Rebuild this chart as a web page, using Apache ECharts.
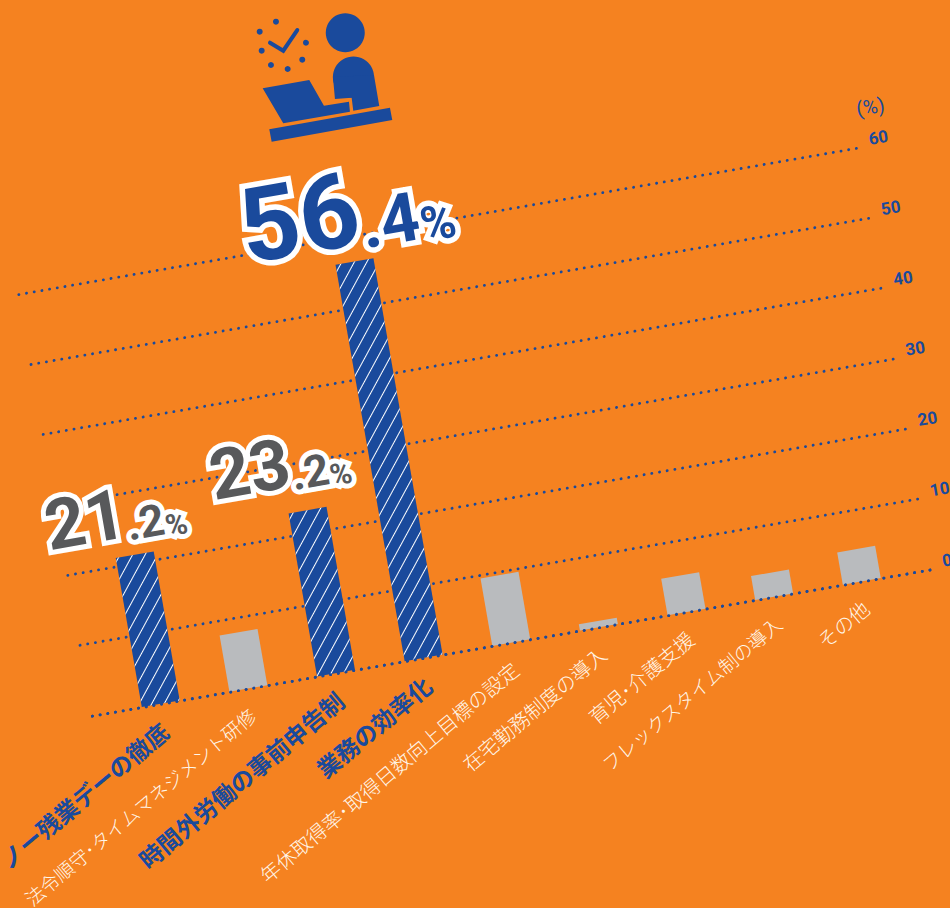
<!DOCTYPE html>
<html lang="ja">
<head>
<meta charset="utf-8">
<style>
  html, body { margin: 0; width: 950px; height: 908px; overflow: hidden; background: #F58220; }
  #stage { position: absolute; left: -175px; top: -196px; width: 1300px; height: 1300px; transform: rotate(-9.9deg); transform-origin: 650px 650px; }
</style>
<script src="https://cdn.jsdelivr.net/npm/echarts@6/dist/echarts.min.js"></script>
</head>
<body>
<div id="stage"></div>
<script>
// Survey results: share of respondents per work-style measure (%)
const categories = [
  'ノー残業デーの徹底', '法令順守･タイムマネジメント研修', '時間外労働の事前申告制', '業務の効率化',
  '年休取得率･取得日数向上目標の設定', '在宅勤務制度の導入', '育児･介護支援', 'フレックスタイム制の導入', 'その他'
];
const values = [21.2, 8.0, 23.2, 56.4, 9.6, 0.9, 5.2, 3.4, 4.6];
const topThree = ['ノー残業デーの徹底', '時間外労働の事前申告制', '業務の効率化'];
const tightNames = ['法令順守･タイムマネジメント研修', 'フレックスタイム制の導入'];
const labelled = [21.2, 23.2, 56.4];
const yTicks = { min: 0, max: 60, step: 10 };
const unitLabel = '(%)';

const ORANGE = '#F58220', BLUE = '#1A4A9C', GREY = '#B9BBBE', INK = '#58595B';
const NUM_FONT = 'Roboto, sans-serif';
const JP_FONT = '"Noto Sans CJK JP", sans-serif';
const TILT = 9.9 * Math.PI / 180;

const hatch = {
  color: '#FFFFFF', symbol: 'rect', symbolSize: 1,
  dashArrayX: [1, 0], dashArrayY: [1, 10], rotation: -0.9
};
const dots = { color: BLUE, width: 2.8, type: [0.1, 7.7], cap: 'round' };

// Headline label: whole part large, decimals smaller, percent sign smallest
function headline(color, big, mid, small, border) {
  const base = { fontFamily: NUM_FONT, fontWeight: 'bold', color, textBorderColor: '#fff', textBorderWidth: border, lineHeight: big };
  return {
    a: { ...base, fontSize: big, verticalAlign: 'bottom' },
    b: { ...base, fontSize: mid, verticalAlign: 'bottom' },
    c: { ...base, fontSize: small, verticalAlign: 'bottom' }
  };
}
function headlineText(v) {
  const [whole, frac] = v.toFixed(1).split('.');
  return `{a|${whole}}{b|.${frac}}{c|%}`;
}
const headlineStyle = {
  21.2: { rich: headline(INK, 70, 44, 30, 10), offset: [-13, -8] },
  23.2: { rich: headline(INK, 70, 44, 30, 10), offset: [-20, -15] },
  56.4: { rich: headline(BLUE, 104, 68, 48, 11), offset: [0, 0] }
};

const barData = values.map((v, i) => {
  const strong = topThree.includes(categories[i]);
  const item = { value: v, itemStyle: strong ? { color: BLUE, decal: hatch } : { color: GREY } };
  if (labelled.includes(v)) {
    item.label = { show: true, position: 'top', distance: 0, formatter: headlineText(v), ...headlineStyle[v] };
  }
  return item;
});

const axisNames = categories.map(name => topThree.includes(name)
  ? { value: name, textStyle: { color: BLUE, fontWeight: 'bold', fontSize: 23.5, fontFamily: JP_FONT } }
  : { value: name, textStyle: { color: '#FFF6EA', fontWeight: 300, fontSize: tightNames.includes(name) ? 19 : 20, fontFamily: JP_FONT } });

// Icon: person at a laptop with a clock of dots and a check mark, upright on the page
const pageIcon = [
  { type: 'circle', shape: { cx: 345.3, cy: 32.7, r: 19.5 } },
  { type: 'polygon', shape: { points: [[269.3,129.3],[390,107.7],[392.3,120],[271.7,141.7]] } },
  { type: 'polygon', shape: { points: [[262.7,88.3],[309.3,80],[324,105.7],[349,101.7],[350,111.7],[283.3,123.3]] } },
  { type: 'circle', shape: { cx: 353.5, cy: 77, r: 20.6 } },
  { type: 'polygon', shape: { points: [[333,77],[335,99],[351.7,97.7],[353.3,110.7],[379.3,106],[374,75]] } },
  ...[[276,21.7],[259.7,31.7],[306,42.7],[261.7,50.7],[302.3,59.7],[271,65],[287.7,69]].map(p => (
    { type: 'circle', shape: { cx: p[0], cy: p[1], r: 3 } })),
].map(el => ({ ...el, style: { fill: BLUE } }));
pageIcon.push({
  type: 'polyline',
  shape: { points: [[270,42.7],[283.3,50.7],[297.3,30]] },
  style: { fill: 'none', stroke: BLUE, lineWidth: 4, lineCap: 'round', lineJoin: 'miter' }
});

const chart = echarts.init(document.getElementById('stage'), null, { renderer: 'svg' });
chart.setOption({
  backgroundColor: ORANGE,
  animation: false,
  graphic: [{
    type: 'group', originX: 650, originY: 650, rotation: -TILT,
    children: [{ type: 'group', x: 175, y: 196, children: pageIcon }]
  }],
  grid: [
    { left: 228, width: 851, top: 414, height: 428 },
    { left: 253, width: 800.6, top: 414, height: 428 }
  ],
  xAxis: [
    { gridIndex: 0, type: 'value', min: 0, max: 1, z: 5,
      axisLine: { show: true, onZero: false, lineStyle: dots },
      axisTick: { show: false }, axisLabel: { show: false }, splitLine: { show: false } },
    { gridIndex: 1, type: 'category', data: axisNames,
      axisLine: { show: false }, axisTick: { show: false }, splitLine: { show: false },
      axisLabel: { interval: 0, rotate: 30, margin: 24, hideOverlap: false } }
  ],
  yAxis: [
    { gridIndex: 0, type: 'value', position: 'right', min: yTicks.min, max: yTicks.max, interval: yTicks.step,
      name: unitLabel, nameLocation: 'end', nameGap: 28,
      nameTextStyle: { color: BLUE, fontSize: 20, fontFamily: NUM_FONT, align: 'left', padding: [0, 0, 0, 6] },
      axisLine: { show: false, onZero: false }, axisTick: { show: false },
      splitLine: { show: true, lineStyle: dots },
      axisLabel: { margin: 13, color: BLUE, fontSize: 17, fontWeight: 'bold', fontFamily: NUM_FONT, verticalAlign: 'bottom', lineHeight: 13 } },
    { gridIndex: 1, type: 'value', min: yTicks.min, max: yTicks.max, show: false }
  ],
  series: [{
    type: 'bar', xAxisIndex: 1, yAxisIndex: 1, barWidth: 38.5, data: barData, silent: true
  }]
});
</script>
</body>
</html>
